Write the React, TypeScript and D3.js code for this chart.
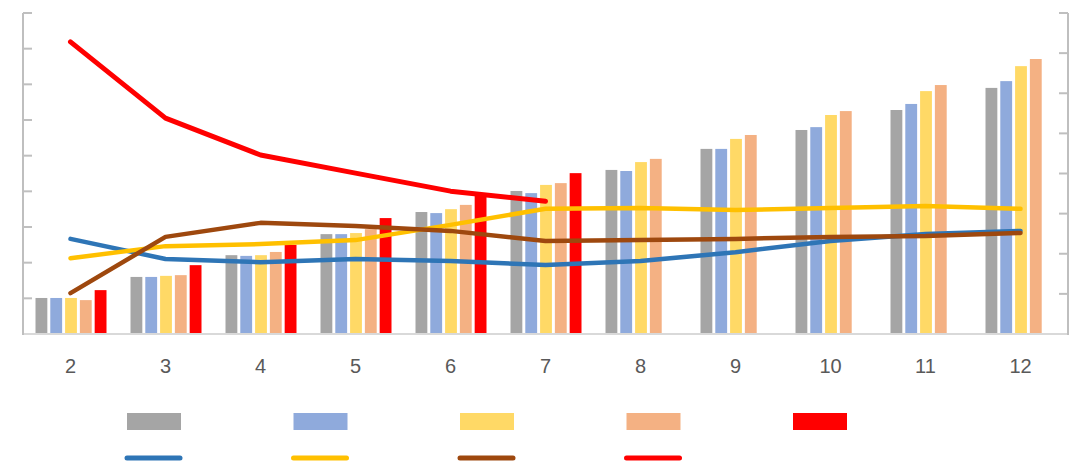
import { useEffect, useRef } from "react";
import * as d3 from "d3";

const categories = ["2", "3", "4", "5", "6", "7", "8", "9", "10", "11", "12"];

// bar series (left axis, 0..9)
const barGray = [1.01, 1.6, 2.21, 2.8, 3.42, 4.01, 4.6, 5.19, 5.72, 6.28, 6.9];
const barBlue = [1.01, 1.6, 2.19, 2.8, 3.39, 3.95, 4.57, 5.19, 5.8, 6.45, 7.09];
const barYellow = [1.01, 1.63, 2.21, 2.83, 3.5, 4.18, 4.82, 5.47, 6.14, 6.81, 7.51];
const barOrange = [0.95, 1.65, 2.3, 2.94, 3.62, 4.23, 4.91, 5.58, 6.25, 6.98, 7.71];
const barRed = [1.23, 1.93, 2.5, 3.25, 3.92, 4.51, null, null, null, null, null];

// line series (right axis, 0..8)
const lineBlue = [2.37, 1.87, 1.79, 1.87, 1.82, 1.72, 1.82, 2.04, 2.32, 2.49, 2.57];
const lineYellow = [1.89, 2.19, 2.24, 2.34, 2.72, 3.12, 3.14, 3.09, 3.14, 3.19, 3.12];
const lineBrown = [1.02, 2.42, 2.77, 2.69, 2.57, 2.32, 2.34, 2.37, 2.42, 2.44, 2.52];
const lineRed = [7.28, 5.38, 4.46, 4.01, 3.56, 3.31, null, null, null, null, null];

const leftTicks = d3.range(0, 10);
const rightTicks = d3.range(0, 9);

const bars = [
  { values: barGray, color: "#A5A5A5" },
  { values: barBlue, color: "#8FAADC" },
  { values: barYellow, color: "#FFD966" },
  { values: barOrange, color: "#F4B183" },
  { values: barRed, color: "#FF0000" },
];

const lines = [
  { values: lineBlue, color: "#2E75B6", width: 4.5 },
  { values: lineYellow, color: "#FFC000", width: 4.5 },
  { values: lineBrown, color: "#9E480E", width: 4.5 },
  { values: lineRed, color: "#FF0000", width: 5 },
];

const W = 1077;
const H = 476;

export default function App() {
  const svgRef = useRef<SVGSVGElement>(null);

  useEffect(() => {
    if (!svgRef.current) return;
    const svg = d3.select(svgRef.current);
    svg.selectAll("*").remove();

    const left = 23;
    const right = 1068;
    const top = 13;
    const bottom = 334;

    const x = d3.scaleBand<string>().domain(categories).range([left, right]).padding(0);
    const xInner = d3
      .scaleBand<number>()
      .domain(d3.range(bars.length))
      .range([-35, 36])
      .paddingInner(0.2);
    const yL = d3.scaleLinear().domain([0, 9]).range([bottom, top]);
    const yR = d3.scaleLinear().domain([0, 8]).range([bottom, top]);
    const cx = (c: string) => (x(c) as number) + x.bandwidth() / 2;

    // bars
    bars.forEach((s, si) => {
      svg
        .append("g")
        .selectAll("rect")
        .data(categories.map((c, i) => ({ c, v: s.values[i] })).filter((d) => d.v != null))
        .join("rect")
        .attr("x", (d) => cx(d.c) + (xInner(si) as number))
        .attr("width", xInner.bandwidth())
        .attr("y", (d) => yL(d.v as number))
        .attr("height", (d) => bottom - yL(d.v as number))
        .attr("fill", s.color);
    });

    // axes
    const axisColor = "#BFBFBF";
    svg
      .append("line")
      .attr("x1", left)
      .attr("x2", right)
      .attr("y1", bottom)
      .attr("y2", bottom)
      .attr("stroke", "#D9D9D9")
      .attr("stroke-width", 2);
    svg
      .append("line")
      .attr("x1", left)
      .attr("x2", left)
      .attr("y1", top)
      .attr("y2", bottom + 1)
      .attr("stroke", axisColor)
      .attr("stroke-width", 2);
    svg
      .append("line")
      .attr("x1", right)
      .attr("x2", right)
      .attr("y1", top)
      .attr("y2", bottom + 1)
      .attr("stroke", axisColor)
      .attr("stroke-width", 2);
    svg
      .append("g")
      .selectAll("line")
      .data(leftTicks.slice(1))
      .join("line")
      .attr("x1", left)
      .attr("x2", left + 9)
      .attr("y1", (d) => yL(d))
      .attr("y2", (d) => yL(d))
      .attr("stroke", axisColor)
      .attr("stroke-width", 2);
    svg
      .append("g")
      .selectAll("line")
      .data(rightTicks.slice(1))
      .join("line")
      .attr("x1", right - 9)
      .attr("x2", right)
      .attr("y1", (d) => yR(d))
      .attr("y2", (d) => yR(d))
      .attr("stroke", axisColor)
      .attr("stroke-width", 2);

    // lines
    lines.forEach((s) => {
      const gen = d3
        .line<number | null>()
        .defined((d) => d != null)
        .x((_, i) => cx(categories[i]))
        .y((d) => yR(d as number));
      svg
        .append("path")
        .datum(s.values)
        .attr("d", gen)
        .attr("fill", "none")
        .attr("stroke", s.color)
        .attr("stroke-width", s.width)
        .attr("stroke-linecap", "round")
        .attr("stroke-linejoin", "round");
    });

    // x labels
    svg
      .append("g")
      .selectAll("text")
      .data(categories)
      .join("text")
      .attr("x", (d) => cx(d))
      .attr("y", 373)
      .attr("text-anchor", "middle")
      .style("font-family", "'Liberation Sans', Arial, sans-serif")
      .style("font-size", "20px")
      .style("fill", "#595959")
      .text((d) => d);

    // legend
    const legendStep = 166.5;
    bars.forEach((s, i) => {
      svg
        .append("rect")
        .attr("x", 127 + i * legendStep)
        .attr("y", 413)
        .attr("width", 54)
        .attr("height", 17)
        .attr("fill", s.color);
    });
    lines.forEach((s, i) => {
      svg
        .append("line")
        .attr("x1", 127 + i * legendStep)
        .attr("x2", 180 + i * legendStep)
        .attr("y1", 458)
        .attr("y2", 458)
        .attr("stroke", s.color)
        .attr("stroke-width", 5)
        .attr("stroke-linecap", "round");
    });
  }, []);

  return (
    <svg
      ref={svgRef}
      width={W}
      height={H}
      style={{ position: "absolute", left: 0, top: 0, background: "#fff" }}
    />
  );
}
